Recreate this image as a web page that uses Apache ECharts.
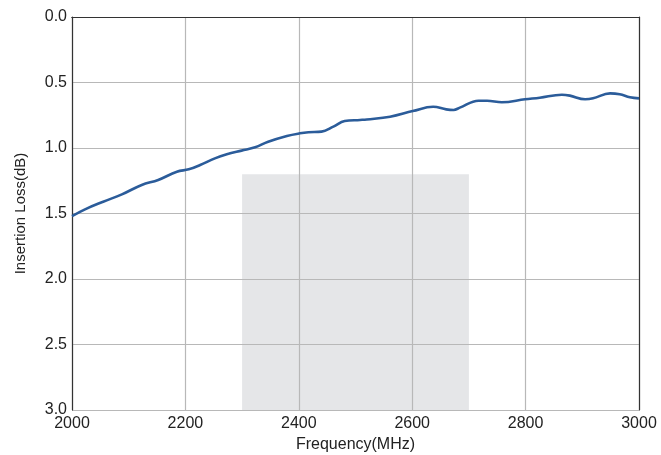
<!DOCTYPE html>
<html>
<head>
<meta charset="utf-8">
<script src="https://cdn.jsdelivr.net/npm/echarts@6/dist/echarts.min.js"></script>
<style>html,body{margin:0;padding:0;background:#fff;}#c{width:661px;height:455px;}</style>
</head>
<body>
<div id="c"></div>
<script>
var freq = [2000,2023,2055,2088,2123,2152,2185,2206,2226,2252,2273,2299,2323,2346,2379,2402,2417,2440,2461,2481,2508,2520,2561,2601,2637,2660,2673,2684,2717,2732,2758,2799,2825,2864,2878,2905,2919,2949,2966,2984,3000];
var loss = [1.52,1.468,1.41,1.354,1.282,1.244,1.181,1.163,1.13,1.079,1.048,1.02,0.995,0.952,0.908,0.888,0.88,0.875,0.837,0.794,0.786,0.782,0.761,0.718,0.685,0.705,0.71,0.692,0.639,0.639,0.651,0.628,0.616,0.593,0.6,0.628,0.621,0.583,0.59,0.613,0.621];
var bandStart = 2300, bandEnd = 2700, bandTop = 1.2, bandBottom = 3.0;
var xMin = 2000, xMax = 3000, xStep = 200;
var yMin = 0, yMax = 3, yStep = 0.5;

var font = 'Liberation Sans, Arial, Helvetica, sans-serif';
var chart = echarts.init(document.getElementById('c'));
chart.setOption({
  animation: false,
  grid: {left: 72, right: 22, top: 17, bottom: 45, show: false, containLabel: false, outerBoundsMode: 'none'},
  xAxis: [{
    type: 'value', min: xMin, max: xMax, interval: xStep,
    name: 'Frequency(MHz)', nameLocation: 'middle', nameGap: 22,
    nameTextStyle: {fontFamily: font, fontSize: 16, color: '#222'},
    axisLine: {lineStyle: {color: '#333', width: 1.2}},
    axisTick: {show: false},
    axisLabel: {fontFamily: font, fontSize: 16, color: '#222', margin: 6,
      formatter: function (v) { return String(v); }},
    splitLine: {lineStyle: {color: '#b8b8b8', width: 1.2}}
  }, {
    type: 'value', position: 'top', min: xMin, max: xMax,
    axisLine: {show: true, lineStyle: {color: '#333', width: 1.2}},
    axisTick: {show: false}, axisLabel: {show: false}, splitLine: {show: false}
  }],
  yAxis: [{
    type: 'value', inverse: true, min: yMin, max: yMax, interval: yStep,
    name: 'Insertion Loss(dB)', nameLocation: 'middle', nameGap: 44,
    nameTextStyle: {fontFamily: font, fontSize: 15, color: '#222'},
    axisLine: {show: true, lineStyle: {color: '#333', width: 1.2}},
    axisTick: {show: false},
    axisLabel: {fontFamily: font, fontSize: 16, color: '#222', margin: 5,
      formatter: function (v) { return v.toFixed(1); }},
    splitLine: {lineStyle: {color: '#b8b8b8', width: 1.2}}
  }, {
    type: 'value', position: 'right', inverse: true, min: yMin, max: yMax,
    axisLine: {show: true, lineStyle: {color: '#333', width: 1.2}},
    axisTick: {show: false}, axisLabel: {show: false}, splitLine: {show: false}
  }],
  series: [{
    type: 'line', z: -1, data: [], silent: true,
    markArea: {
      silent: true, z: -1,
      itemStyle: {color: '#e5e6e8'},
      data: [[{xAxis: bandStart, yAxis: bandTop}, {xAxis: bandEnd, yAxis: bandBottom}]]
    }
  }, {
    type: 'line', z: 5,
    data: freq.map(function (f, i) { return [f, loss[i]]; }),
    smooth: 0.4, showSymbol: false,
    lineStyle: {color: '#2b5c9a', width: 2.6}
  }]
});
</script>
</body>
</html>
